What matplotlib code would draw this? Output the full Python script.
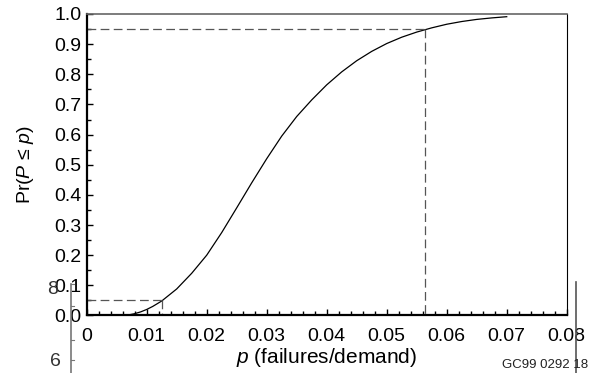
import matplotlib
matplotlib.use("Agg")
import matplotlib.pyplot as plt
from matplotlib.ticker import MultipleLocator, FixedLocator

plt.rcParams['font.family'] = ['Liberation Sans', 'DejaVu Sans']
plt.rcParams['mathtext.fontset'] = 'custom'
plt.rcParams['mathtext.it'] = 'Liberation Sans:italic'
plt.rcParams['mathtext.rm'] = 'Liberation Sans'

# CDF
p_vals = [0.006, 0.007, 0.008, 0.009, 0.010, 0.011, 0.0125, 0.015, 0.0175,
          0.020, 0.0225, 0.025, 0.0275, 0.030, 0.0325, 0.035, 0.0375, 0.040,
          0.0425, 0.045, 0.0475, 0.050, 0.0525, 0.055, 0.0575, 0.060, 0.0625,
          0.065, 0.0675, 0.070]
cdf_vals = [0.0, 0.002, 0.006, 0.012, 0.02, 0.03, 0.048, 0.088, 0.14,
            0.20, 0.275, 0.357, 0.44, 0.52, 0.595, 0.66, 0.715, 0.765,
            0.808, 0.845, 0.876, 0.902, 0.923, 0.94, 0.954, 0.966, 0.975,
            0.982, 0.987, 0.991]

# 5th and 95th percentiles
pct_levels = [0.05, 0.95]
pct_p = [0.0126, 0.0564]

xticks = [0, 0.01, 0.02, 0.03, 0.04, 0.05, 0.06, 0.07, 0.08]
xtick_labels = ['0', '0.01', '0.02', '0.03', '0.04', '0.05', '0.06', '0.07', '0.08']
yticks = [i / 10 for i in range(11)]
ytick_labels = ['%.1f' % v for v in yticks]

fig = plt.figure(figsize=(5.89, 3.73), dpi=100)
ax = fig.add_axes([0.1472, 0.1542, 0.815, 0.8083])

ax.plot(p_vals, cdf_vals, color='black', lw=0.9)

for lvl, pp in zip(pct_levels, pct_p):
    ax.plot([0, pp], [lvl, lvl], color='#555555', lw=0.9, dashes=(7, 3.5))
    ax.plot([pp, pp], [lvl, 0], color='#555555', lw=0.9, dashes=(7, 3.5))

ax.set_xlim(0, 0.08)
ax.set_ylim(0, 1.0)
ax.xaxis.set_major_locator(FixedLocator(xticks))
ax.set_xticklabels(xtick_labels)
ax.xaxis.set_minor_locator(MultipleLocator(0.002))
ax.yaxis.set_major_locator(FixedLocator(yticks))
ax.set_yticklabels(ytick_labels)
ax.yaxis.set_minor_locator(MultipleLocator(0.05))

ax.tick_params(axis='both', which='both', direction='in', labelsize=14,
               top=False, right=False, color='black')
ax.tick_params(axis='both', which='major', length=4, width=1.0)
ax.tick_params(axis='both', which='minor', length=3, width=1.0)
ax.tick_params(axis='x', which='major', pad=9)
ax.tick_params(axis='y', which='major', pad=4)

ax.spines['left'].set_linewidth(1.6)
ax.spines['bottom'].set_linewidth(1.6)
ax.spines['top'].set_color('#666666')
ax.spines['top'].set_linewidth(1.2)
ax.spines['right'].set_linewidth(0.8)

ax.set_xlabel(r'$p$ (failures/demand)', fontsize=15, labelpad=1)
ax.set_ylabel(r'Pr($P$ ≤ $p$)', fontsize=14, labelpad=13)

# stray artifacts from the source scan
fig.text(545 / 589, 1 - 365 / 373, 'GC99 0292 18', fontsize=9.5,
         ha='center', va='center', color='#222222')
fig.text(53 / 589, 1 - 289 / 373, '8', fontsize=14, ha='center', va='center',
         color='#333333')
fig.text(55 / 589, 1 - 362 / 373, '6', fontsize=14, ha='center', va='center',
         color='#333333')
fig.add_artist(plt.Line2D([71 / 589, 71 / 589], [1 - 284 / 373, 0],
                          transform=fig.transFigure, color='#777777', lw=1.2))
for yy in [284, 306, 340, 360]:
    fig.add_artist(plt.Line2D([71 / 589, 74 / 589], [1 - yy / 373, 1 - yy / 373],
                              transform=fig.transFigure, color='#777777', lw=0.8))
fig.add_artist(plt.Line2D([576 / 589, 576 / 589], [1 - 282 / 373, 0],
                          transform=fig.transFigure, color='#555555', lw=1.2))

fig.savefig('out.png', dpi=100)
